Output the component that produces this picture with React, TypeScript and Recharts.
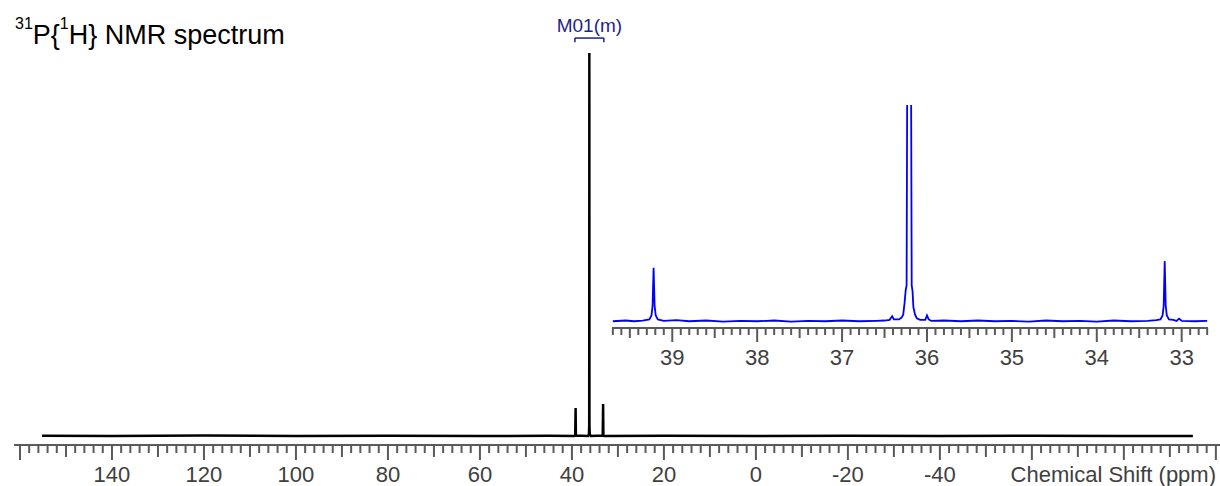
import React from 'react';
import { ComposedChart, LineChart, Line, XAxis, YAxis, ReferenceLine } from 'recharts';

// full spectrum (ppm, intensity relative to tallest peak = 100)
const mainShift = [
  155.2, 140, 120, 100, 80, 60, 45, 39.5, 39.28, 39.2, 39.14, 36.5, 36.3, 36.24, 36.215, 36.19,
  36.13, 35.9, 33.3, 33.22, 33.16, 33, 20, 0, -20, -40, -60, -80, -95,
];
const mainIntensity = [
  0.05, 0, 0.1, 0, 0.05, 0, 0.05, 0, 0.1, 7.3, 0.1, 0, 0.5, 3, 100, 3,
  0.5, 0, 0.1, 8.36, 0.1, 0, 0.05, 0, 0.05, 0, 0.05, 0, 0,
];

// zoomed region 39.7 - 32.7 ppm
const insetShift = [
  39.7, 39.55, 39.45, 39.35, 39.27, 39.245, 39.232, 39.22, 39.208, 39.195, 39.17, 39.1, 38.95,
  38.8, 38.6, 38.4, 38.2, 38.0, 37.8, 37.6, 37.4, 37.2, 37.0, 36.8, 36.6, 36.5, 36.44, 36.41,
  36.39, 36.33, 36.3, 36.28, 36.265, 36.25, 36.24, 36.215, 36.205, 36.18, 36.17, 36.16, 36.14,
  36.12, 36.08, 36.02, 36.0, 35.98, 35.95, 35.8, 35.6, 35.4, 35.2, 35.0, 34.8, 34.6, 34.4, 34.2,
  34.0, 33.8, 33.6, 33.4, 33.3, 33.25, 33.225, 33.212, 33.2, 33.188, 33.175, 33.15, 33.1, 33.06,
  33.03, 33.0, 32.85, 32.7,
];
const insetIntensity = [
  0.1, 0.2, 0.1, 0.2, 0.35, 0.9, 2.2, 7.4, 2.2, 0.9, 0.35, 0.15, 0.25,
  0.1, 0.2, 0.05, 0.15, 0.1, 0.2, 0.05, 0.15, 0.1, 0.2, 0.1, 0.15, 0.2, 0.3, 0.8,
  0.35, 0.35, 0.6, 1.0, 2.5, 4.4, 5.0, 100, 100, 5.0, 4.2, 2.0, 1.0,
  0.5, 0.3, 0.3, 0.9, 0.35, 0.15, 0.2, 0.1, 0.2, 0.1, 0.15, 0.05, 0.2, 0.1, 0.15,
  0.05, 0.2, 0.1, 0.15, 0.25, 0.35, 0.9, 2.2, 8.3, 2.2, 0.9, 0.35, 0.3, 0.15,
  0.45, 0.15, 0.1, 0.15,
];

const mainTickLabels = [140, 120, 100, 80, 60, 40, 20, 0, -20, -40];
const insetTickLabels = [39, 38, 37, 36, 35, 34, 33];

const mainData = mainShift.map((ppm, i) => ({ ppm, y: mainIntensity[i] }));
const insetData = insetShift.map((ppm, i) => ({ ppm, y: insetIntensity[i] }));

const FONT = '"Liberation Sans", Arial, Helvetica, sans-serif';
const TICK = '#5a5a5a';
const LABEL = '#404040';
const NAVY = '#1f1f8f';

function makeTicks(from: number, to: number, step: number) {
  const out: number[] = [];
  const n = Math.round((to - from) / step);
  for (let i = 0; i <= n; i++) out.push(Math.round((from + i * step) * 100) / 100);
  return out;
}
const mainTicks = makeTicks(-100, 160, 2);
const insetTicks = makeTicks(32.7, 39.7, 0.1);

function MainTick(props: any) {
  const { x, y, payload } = props;
  const v = payload.value;
  const len = v % 20 === 0 ? 15 : v % 10 === 0 ? 12 : 8;
  return (
    <g>
      <line x1={x} x2={x} y1={y} y2={y + len} stroke={TICK} strokeWidth={2} />
      {mainTickLabels.includes(v) && (
        <text x={x} y={y + 37} textAnchor="middle" fontSize={22} fill={LABEL} fontFamily={FONT}>
          {v}
        </text>
      )}
    </g>
  );
}

function InsetTick(props: any) {
  const { x, y, payload } = props;
  const v10 = Math.round(payload.value * 10);
  const len = v10 % 10 === 0 ? 14 : v10 % 5 === 0 ? 10 : 7;
  return (
    <g>
      <line x1={x} x2={x} y1={y} y2={y + len} stroke={TICK} strokeWidth={2} />
      {insetTickLabels.includes(v10 / 10) && (
        <text x={x} y={y + 37} textAnchor="middle" fontSize={22} fill={LABEL} fontFamily={FONT}>
          {v10 / 10}
        </text>
      )}
    </g>
  );
}

export default function App() {
  return (
    <div style={{ position: 'absolute', left: 0, top: 0, width: 1220, height: 486, background: '#fff' }}>
      <svg width={400} height={60} style={{ position: 'absolute', left: 0, top: 0 }}>
        <text x={15} y={44} fontFamily={FONT} fill="#000">
          <tspan fontSize={16} dy={-15}>31</tspan>
          <tspan fontSize={27} dy={15}>P{'{'}</tspan>
          <tspan fontSize={16} dy={-15}>1</tspan>
          <tspan fontSize={27} dy={15}>H{'}'} NMR spectrum</tspan>
        </text>
      </svg>

      <div style={{ position: 'absolute', left: 0, top: 0 }}>
        <ComposedChart width={1220} height={486} data={mainData} margin={{ top: 53, right: 0, bottom: 0, left: 14 }}>
          <XAxis
            dataKey="ppm"
            type="number"
            domain={[-100.9, 161.3]}
            reversed
            allowDataOverflow
            ticks={mainTicks}
            interval={0}
            tick={(p: any) => <MainTick {...p} />}
            tickLine={false}
            tickSize={0}
            tickMargin={0}
            height={41}
            axisLine={{ stroke: TICK, strokeWidth: 2 }}
            label={{ value: 'Chemical Shift (ppm)', position: 'insideBottomRight', offset: 4, fill: LABEL, fontSize: 22, fontFamily: FONT }}
          />
          <YAxis hide type="number" domain={[-2.35, 100]} allowDataOverflow />
          <Line dataKey="y" type="linear" dot={false} stroke="#000" strokeWidth={2.5} isAnimationActive={false} />
          <ReferenceLine
            ifOverflow="visible"
            segment={[{ x: 39.35, y: 103.9 }, { x: 33.05, y: 103.9 }]}
            stroke={NAVY}
            strokeWidth={1.5}
            label={{ value: 'M01(m)', position: 'top', offset: 6, fill: NAVY, fontSize: 19, fontFamily: FONT }}
          />
          <ReferenceLine ifOverflow="visible" segment={[{ x: 39.35, y: 103.9 }, { x: 39.35, y: 102.8 }]} stroke={NAVY} strokeWidth={1.5} />
          <ReferenceLine ifOverflow="visible" segment={[{ x: 33.05, y: 103.9 }, { x: 33.05, y: 102.8 }]} stroke={NAVY} strokeWidth={1.5} />
        </ComposedChart>
      </div>

      <div style={{ position: 'absolute', left: 0, top: 0 }}>
        <LineChart width={1220} height={486} data={insetData} margin={{ top: 105, right: 12, bottom: 118, left: 612 }}>
          <XAxis
            dataKey="ppm"
            type="number"
            domain={[32.69, 39.71]}
            reversed
            allowDataOverflow
            ticks={insetTicks}
            interval={0}
            tick={(p: any) => <InsetTick {...p} />}
            tickLine={false}
            tickSize={0}
            tickMargin={0}
            height={40}
            axisLine={{ stroke: TICK, strokeWidth: 2 }}
          />
          <YAxis hide type="number" domain={[-0.82, 29.6]} allowDataOverflow />
          <Line dataKey="y" type="linear" dot={false} stroke="#0000ff" strokeWidth={1.8} isAnimationActive={false} />
        </LineChart>
      </div>
    </div>
  );
}
